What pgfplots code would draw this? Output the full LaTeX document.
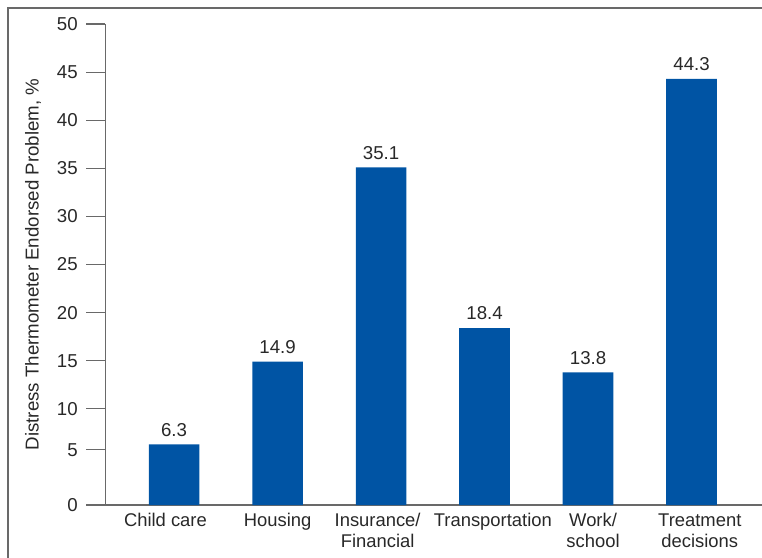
\documentclass[border=0pt]{standalone}
\usepackage{pgfplots}
\pgfplotsset{compat=1.18}
\usepackage{fontspec}
\setmainfont{Liberation Sans}
\definecolor{barblue}{RGB}{0,84,164}
\definecolor{axgray}{RGB}{105,105,105}
\definecolor{txt}{RGB}{40,40,40}
\begin{document}
\begin{tikzpicture}[x=0.75pt,y=0.75pt]
\useasboundingbox (0,0) rectangle (762,557);
\draw[axgray, line width=1.1pt] (8,-5) -- (8,549) -- (762,549);
\begin{axis}[
  at={(101.8,54)}, anchor=south west,
  scale only axis,
  width=492.75pt, height=360.75pt,
  xmin=-0.664, xmax=5.684,
  ymin=0, ymax=50,
  axis x line=bottom, axis y line=left,
  axis line style={-, axgray, line width=0.9pt},
  ytick={0,5.75,10,15,20,25,30,35,40,45,50},
  yticklabels={0,5,10,15,20,25,30,35,40,45,50},
  xtick={0,1,2,3,4,5},
  xticklabels={\hspace*{-13pt}Child care,Housing,\hspace*{-5.2pt}Insurance/\\\hspace*{-5.2pt}Financial,\hspace*{12.4pt}Transportation,\hspace*{7.5pt}Work/\\\hspace*{7.5pt}school,\hspace*{12.3pt}Treatment\\\hspace*{12.3pt}decisions},
  xticklabel style={align=center, font=\fontsize{13.8}{15.75}\selectfont, text=txt, yshift=11.5pt},
  yticklabel style={font=\fontsize{14}{16}\selectfont, text=txt, xshift=-3pt},
  major x tick style={draw=none},
  ytick style={axgray, line width=0.9pt},
  tick align=outside,
  major tick length=14.25pt,
  /pgf/number format/assume math mode=true,
  ylabel={Distress Thermometer Endorsed Problem, \%},
  ylabel style={font=\fontsize{14}{16}\selectfont, text=txt, at={(axis description cs:-0.110,0.5)}, anchor=center},
  ybar, bar width=38pt,
  nodes near coords,
  nodes near coords style={font=\fontsize{14}{16}\selectfont, text=txt, yshift=2.5pt, /pgf/number format/fixed, /pgf/number format/precision=1, /pgf/number format/fixed zerofill},
  clip=false,
]
\addplot[fill=barblue, draw=none] coordinates {(0,6.3) (1,14.9) (2,35.1) (3,18.4) (4,13.8) (5,44.3)};
\end{axis}
\end{tikzpicture}
\end{document}
